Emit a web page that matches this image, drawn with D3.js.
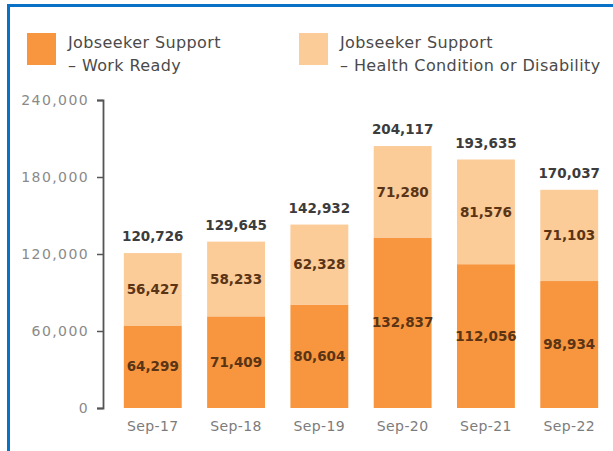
<!DOCTYPE html>
<html>
<head>
<meta charset="utf-8">
<script src="https://cdn.jsdelivr.net/npm/d3@7/dist/d3.min.js"></script>
<style>
  html, body { margin: 0; padding: 0; background: #fff; }
  svg { display: block; }
  text { font-family: "DejaVu Sans", sans-serif; }
</style>
</head>
<body>
<svg id="chart" width="613" height="451"></svg>
<script>
// Jobseeker Support recipients by quarter (September each year)
const categories = ["Sep-17", "Sep-18", "Sep-19", "Sep-20", "Sep-21", "Sep-22"];
const workReady = [64299, 71409, 80604, 132837, 112056, 98934];
const healthDisability = [56427, 58233, 62328, 71280, 81576, 71103];
const totals = [120726, 129645, 142932, 204117, 193635, 170037];
const yTicks = [0, 60000, 120000, 180000, 240000];
const seriesNames = [
  ["Jobseeker Support", "\u2013 Work Ready"],
  ["Jobseeker Support", "\u2013 Health Condition or Disability"]
];
const colors = ["#F7963E", "#FBCB98"];

const svg = d3.select("#chart");

// blue frame along the top and left edges
svg.append("rect").attr("x", 7).attr("y", 4).attr("width", 606).attr("height", 3).attr("fill", "#0A72C6");
svg.append("rect").attr("x", 7).attr("y", 4).attr("width", 3).attr("height", 447).attr("fill", "#0A72C6");

const x = d3.scaleBand()
  .domain(categories)
  .range([103, 619])
  .paddingInner(0.305)
  .paddingOuter(0.25);

const y = d3.scaleLinear()
  .domain([0, 240000])
  .range([408, 100]);

// y axis
const yAxis = d3.axisLeft(y)
  .tickValues(yTicks)
  .tickFormat(d3.format(","))
  .tickSize(6)
  .tickPadding(8);

const ga = svg.append("g")
  .attr("transform", "translate(103,0)")
  .call(yAxis);
ga.select(".domain").attr("stroke", "#555").attr("stroke-width", 1.8);
ga.selectAll(".tick line").attr("stroke", "#555").attr("stroke-width", 1.5);
ga.selectAll(".tick text")
  .attr("fill", "#8a8a8a")
  .style("font-size", "14px")
  .style("letter-spacing", "1.4px");

// stacked data
const rows = categories.map((c, i) => ({ cat: c, wr: workReady[i], hd: healthDisability[i], total: totals[i] }));
const stack = d3.stack().keys(["wr", "hd"]);
const layers = stack(rows);

const gBars = svg.append("g");
layers.forEach((layer, li) => {
  gBars.selectAll(null)
    .data(layer)
    .enter().append("rect")
    .attr("x", d => x(d.data.cat))
    .attr("width", x.bandwidth())
    .attr("y", d => y(d[1]))
    .attr("height", d => y(d[0]) - y(d[1]))
    .attr("fill", colors[li]);

  // segment values
  gBars.selectAll(null)
    .data(layer)
    .enter().append("text")
    .attr("x", d => x(d.data.cat) + x.bandwidth() / 2)
    .attr("y", d => (y(d[0]) + y(d[1])) / 2)
    .attr("dy", "0.35em")
    .attr("text-anchor", "middle")
    .attr("fill", "#5a3414")
    .style("font-size", "13.5px")
    .style("font-weight", "bold")
    .text(d => d3.format(",")(d[1] - d[0]));
});

// totals above bars
svg.append("g").selectAll("text")
  .data(rows)
  .enter().append("text")
  .attr("x", d => x(d.cat) + x.bandwidth() / 2)
  .attr("y", d => y(d.total) - 12)
  .attr("text-anchor", "middle")
  .attr("fill", "#3c3c3c")
  .style("font-size", "13.5px")
  .style("font-weight", "bold")
  .text(d => d3.format(",")(d.total));

// category labels
svg.append("g").selectAll("text")
  .data(categories)
  .enter().append("text")
  .attr("x", d => x(d) + x.bandwidth() / 2)
  .attr("y", 431)
  .attr("text-anchor", "middle")
  .attr("fill", "#7c7c7c")
  .style("font-size", "14px")
  .style("letter-spacing", "0.4px")
  .text(d => d);

// legend
const legendX = [27, 299];
seriesNames.forEach((lines, i) => {
  const g = svg.append("g").attr("transform", `translate(${legendX[i]},33)`);
  g.append("rect").attr("width", 29).attr("height", 32).attr("fill", colors[i]);
  g.selectAll("text")
    .data(lines)
    .enter().append("text")
    .attr("x", 41)
    .attr("y", (d, j) => 15 + j * 23)
    .attr("fill", "#4a4a4a")
    .style("font-size", "16px")
    .style("letter-spacing", "0.4px")
    .text(d => d);
});
</script>
</body>
</html>
